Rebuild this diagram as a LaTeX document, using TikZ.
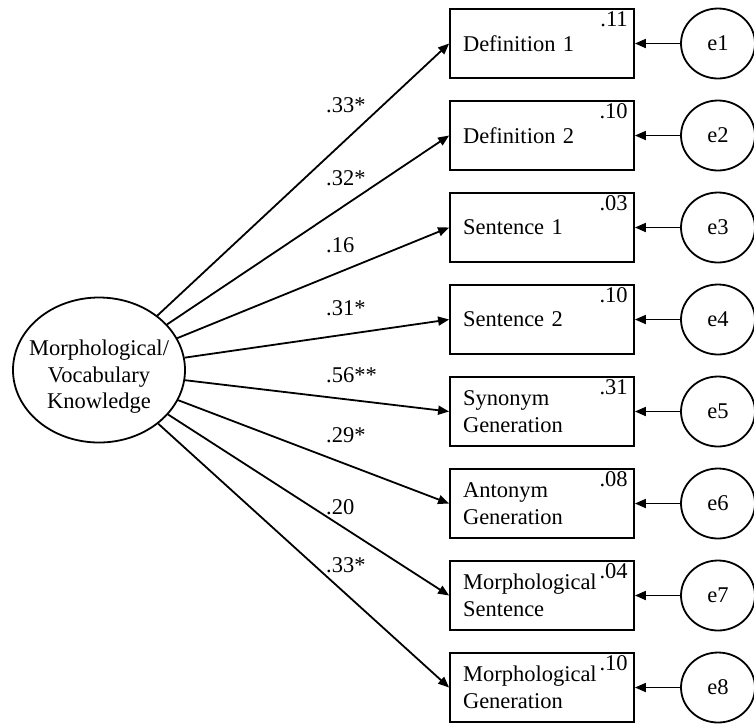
\documentclass[tikz,border=0pt]{standalone}
\usepackage{fontspec}
\setmainfont{Liberation Serif}
\usetikzlibrary{arrows.meta,positioning,calc,shapes.geometric}

\begin{document}
\begin{tikzpicture}[x=1pt,y=-1pt,
  font=\fontsize{22.5}{26.5}\selectfont,
  obs/.style={draw, line width=1.8pt, minimum width=184pt, minimum height=69pt,
    text width=158pt, inner xsep=13pt, align=left},
  err/.style={draw, ellipse, line width=1.8pt, minimum width=74pt, minimum height=70pt, inner sep=0pt},
  load/.style={line width=1.8pt, -{Triangle[length=11pt,width=9pt]}}]
\useasboundingbox (0,0) rectangle (754,724);
\node[draw, ellipse, line width=1.8pt, minimum width=172pt, minimum height=145pt,
  label={[align=center, yshift=-7pt]center:Morphological/\\Vocabulary\\Knowledge}] (mvk) at (99,370) {};
\foreach \i/\txt/\rsq/\coef/\ly in {
  1/{Definition 1}/.11/.33*/105,
  2/{Definition 2}/.10/.32*/178,
  3/{Sentence 1}/.03/.16/245,
  4/{Sentence 2}/.10/.31*/308,
  5/{Synonym\\Generation}/.31/.56**/375,
  6/{Antonym\\Generation}/.08/.29*/435,
  7/{Morphological\\Sentence}/.04/.20/507,
  8/{Morphological\\Generation}/.10/.33*/565} {
  \node[obs] (m\i) at (542,{43.5+92*(\i-1)}) {\txt};
  \node[anchor=north east, inner sep=0pt] (r\i) at ($(m\i.north east)+(-7,3)$) {\rsq};
  \node[err] (e\i) at (718,{43.5+92*(\i-1)}) {e\i};
  \node[anchor=west, inner sep=0pt] (c\i) at (326,\ly) {\coef};
  \draw[load] (mvk) -- (m\i.west);
  \draw[load] (e\i) -- (m\i.east);
}
\end{tikzpicture}
\end{document}
